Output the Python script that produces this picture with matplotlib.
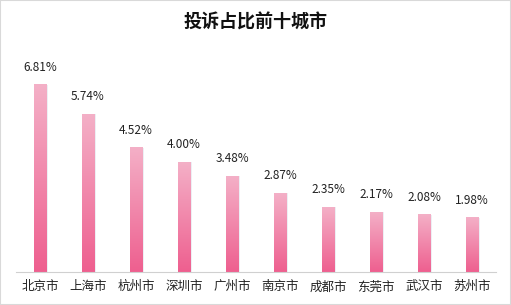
import numpy as np
import matplotlib.pyplot as plt
from matplotlib.colors import LinearSegmentedColormap
from matplotlib.patches import Rectangle

plt.rcParams['font.family'] = ['Noto Sans CJK SC', 'DejaVu Sans']

cities = ["北京市", "上海市", "杭州市", "深圳市", "广州市", "南京市", "成都市", "东莞市", "武汉市", "苏州市"]
shares = [6.81, 5.74, 4.52, 4.00, 3.48, 2.87, 2.35, 2.17, 2.08, 1.98]
labels = ["6.81%", "5.74%", "4.52%", "4.00%", "3.48%", "2.87%", "2.35%", "2.17%", "2.08%", "1.98%"]

fig = plt.figure(figsize=(5.11, 3.05), dpi=100)
fig.patches.append(Rectangle((0, 0), 1, 1, transform=fig.transFigure, fill=False,
                             edgecolor="#d9d9d9", lw=1.5))
ax = fig.add_axes([16/511, 33/305, 480/511, 212/305])

cmap = LinearSegmentedColormap.from_list("pink", ["#ee5f8f", "#f4b0c7"])
grad = np.linspace(0, 1, 256).reshape(-1, 1)
w = 0.27
x = np.arange(len(cities))
for i, v in enumerate(shares):
    # soft shadow on the right
    ax.bar(x[i] + 0.04, v, width=w, color="#c9d3e0", alpha=0.35, zorder=1)
    ax.imshow(grad, extent=[x[i] - w/2, x[i] + w/2, 0, v], origin="lower",
              cmap=cmap, aspect="auto", zorder=2)
    ax.text(x[i], v + 0.40, labels[i], ha="center", va="bottom", fontsize=8.5, color="#222222")

ax.set_xlim(-0.5, len(cities) - 0.5)
ax.set_ylim(0, 7.72)
ax.set_xticks(x)
ax.set_xticklabels(cities, fontsize=9, color="#222222")
ax.tick_params(axis="x", length=0, pad=6)
ax.set_yticks([])
for s in ["top", "right", "left"]:
    ax.spines[s].set_visible(False)
ax.spines["bottom"].set_color("#d0d0d0")

fig.text(0.5, 1 - 22/305, "投诉占比前十城市", ha="center", va="center",
         fontsize=13, fontweight="bold", color="#111111")

fig.savefig("out.png", dpi=100)
